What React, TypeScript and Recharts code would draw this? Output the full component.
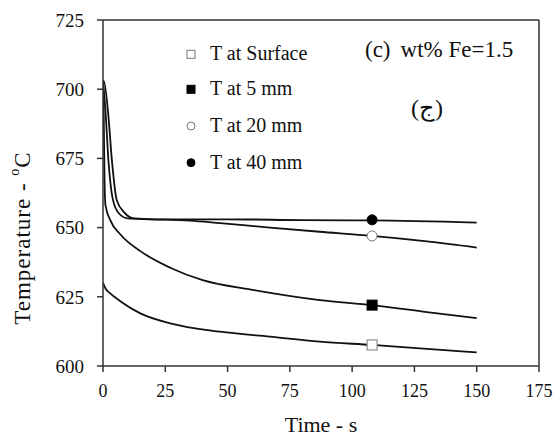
import React from 'react';
import { ComposedChart, Line, Scatter, XAxis, YAxis, ReferenceLine, Customized } from 'recharts';

const xTicks = [0, 25, 50, 75, 100, 125, 150, 175];
const yTicks = [600, 625, 650, 675, 700, 725];

const surfaceT = [0, 1, 2.8, 6.8, 15, 27, 47, 67, 87, 108, 130, 150];
const surfaceV = [630, 628, 626.3, 623.5, 619, 615.4, 612.4, 610.6, 608.8, 607.6, 606.2, 604.9];

const mm5T = [0, 0.3, 0.6, 1, 3, 7, 15, 27, 40, 60, 87, 108, 130, 150];
const mm5V = [703, 690, 668, 658, 652.5, 647.5, 641.5, 635.5, 631, 627.5, 623.8, 622, 619.5, 617.3];

const mm20T = [0, 1.0, 2.2, 4.0, 6.5, 10, 20, 35, 47, 67, 87, 108, 130, 150];
const mm20V = [703, 692, 674, 660, 655, 653.3, 653, 652.5, 651.6, 650, 648.5, 647, 645, 642.8];

const mm40T = [0, 0.3, 2.0, 3.6, 5.5, 8.5, 12.5, 20, 50, 80, 108, 150];
const mm40V = [702.5, 703, 692, 674, 660, 655.5, 653.3, 653, 653, 652.7, 652.6, 651.8];

const markerT = [108, 108, 108, 108];
const markerV = [607.6, 622, 647, 652.8];
const legendLabels = ['T at Surface', 'T at 5 mm', 'T at 20 mm', 'T at 40 mm'];
const markerKinds = ['openSquare', 'filledSquare', 'openCircle', 'filledCircle'];

const zip = (ts: number[], vs: number[]) => ts.map((t, i) => ({ t, v: vs[i] }));
const surface = zip(surfaceT, surfaceV);
const mm5 = zip(mm5T, mm5V);
const mm20 = zip(mm20T, mm20V);
const mm40 = zip(mm40T, mm40V);

const FONT = '"Liberation Serif", "Times New Roman", serif';
const INK = '#111';

function Marker({ kind, cx, cy, s = 10 }: { kind: string; cx: number; cy: number; s?: number }) {
  const h = s / 2;
  if (kind === 'openSquare') return <rect x={cx - h} y={cy - h} width={s} height={s} fill="#fff" stroke="#777" strokeWidth={1} />;
  if (kind === 'filledSquare') return <rect x={cx - h} y={cy - h} width={s} height={s} fill="#000" stroke="#000" strokeWidth={1} />;
  if (kind === 'openCircle') return <circle cx={cx} cy={cy} r={h} fill="#fff" stroke="#777" strokeWidth={1} />;
  return <circle cx={cx} cy={cy} r={h} fill="#000" stroke="#000" strokeWidth={1} />;
}

const legendY = [53.3, 88.3, 125, 161.7];

function Overlay() {
  return (
    <g>
      {legendLabels.map((lab, i) => (
        <g key={lab}>
          <Marker kind={markerKinds[i]} cx={191} cy={legendY[i] + 1} s={8} />
          <text x={210} y={legendY[i]} dominantBaseline="central" fontFamily={FONT} fontSize={20} fill={INK}>{lab}</text>
        </g>
      ))}
      <text x={365} y={49} dominantBaseline="central" fontFamily={FONT} fontSize={23} fill={INK}>
        <tspan>(c)</tspan><tspan dx={10}>wt% Fe=1.5</tspan>
      </text>
      <text x={427} y={108} dominantBaseline="central" textAnchor="middle" fontFamily={FONT} fontSize={24} fill={INK}>(ج)</text>
      <text x={22} y={238} transform="rotate(-90 22 238)" textAnchor="middle" dominantBaseline="central" fontFamily={FONT} fontSize={23} letterSpacing={1} fill={INK}>
        Temperature - <tspan baselineShift="super" fontSize={14}>o</tspan>C
      </text>
      <text x={321} y={424} textAnchor="middle" dominantBaseline="central" fontFamily={FONT} fontSize={22} fill={INK}>Time - s</text>
    </g>
  );
}

const xTickStyle = { fontFamily: FONT, fontSize: 18, fill: INK };
const yTickStyle = { fontFamily: FONT, fontSize: 19, fill: INK };

export default function App() {
  const markerShape = (kind: string) => (props: any) => <Marker kind={kind} cx={props.cx} cy={props.cy} />;
  return (
    <div style={{ position: 'absolute', left: 0, top: 0, background: '#fff' }}>
      <ComposedChart width={553} height={437} margin={{ top: 20, right: 14, bottom: 0, left: 0 }}>
        <XAxis dataKey="t" type="number" domain={[0, 175]} ticks={xTicks} height={71} tick={xTickStyle}
          tickSize={6} tickMargin={12} stroke="#333" strokeWidth={1.5} tickLine={{ stroke: '#333', strokeWidth: 1.5 }} allowDataOverflow />
        <YAxis type="number" domain={[600, 725]} ticks={yTicks} width={103} tick={yTickStyle}
          tickSize={6} tickMargin={13} stroke="#333" strokeWidth={1.5} tickLine={{ stroke: '#333', strokeWidth: 1.5 }} allowDataOverflow />
        <ReferenceLine y={725} stroke="#333" strokeWidth={1.5} />
        <ReferenceLine x={175} stroke="#333" strokeWidth={1.5} />
        <Line data={surface} dataKey="v" type="monotone" stroke={INK} strokeWidth={1.8} dot={false} isAnimationActive={false} />
        <Line data={mm5} dataKey="v" type="monotone" stroke={INK} strokeWidth={1.8} dot={false} isAnimationActive={false} />
        <Line data={mm20} dataKey="v" type="monotone" stroke={INK} strokeWidth={1.8} dot={false} isAnimationActive={false} />
        <Line data={mm40} dataKey="v" type="monotone" stroke={INK} strokeWidth={1.8} dot={false} isAnimationActive={false} />
        {markerKinds.map((k, i) => (
          <Scatter key={k} data={[{ t: markerT[i], v: markerV[i] }]} dataKey="v" shape={markerShape(k)} isAnimationActive={false} />
        ))}
        <Customized component={Overlay} />
      </ComposedChart>
    </div>
  );
}
